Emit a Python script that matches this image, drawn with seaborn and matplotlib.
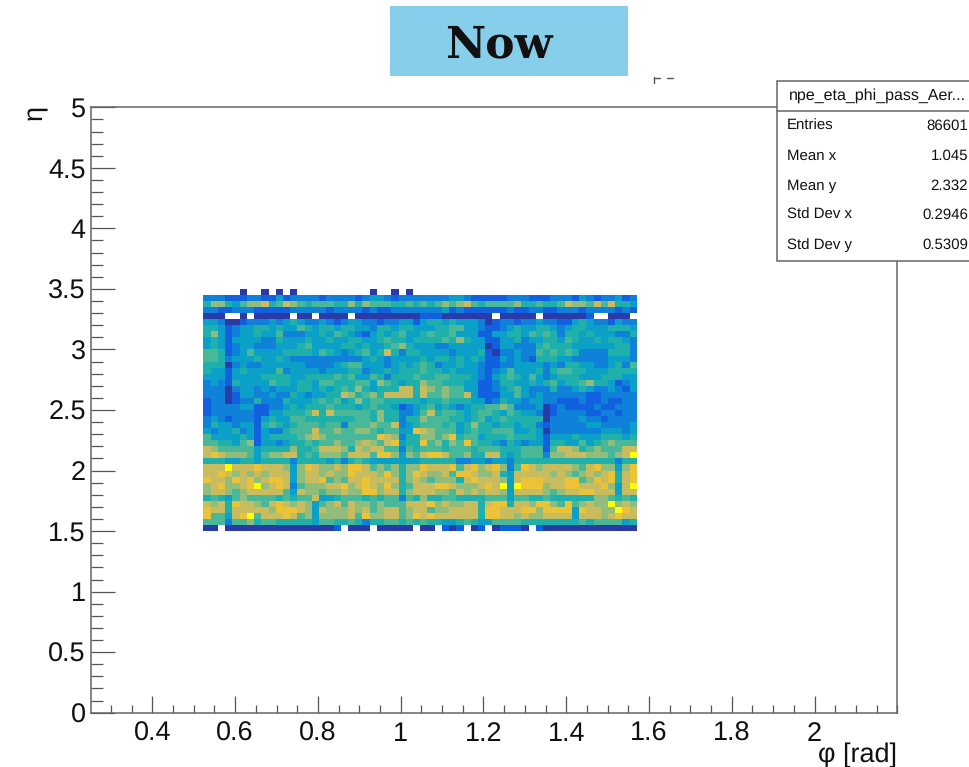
import numpy as np
import pandas as pd
import matplotlib
matplotlib.use("Agg")
import matplotlib.pyplot as plt
from matplotlib.colors import LinearSegmentedColormap
from matplotlib.lines import Line2D
from matplotlib.patches import Rectangle
from matplotlib.ticker import MultipleLocator, FixedLocator, FuncFormatter
import seaborn as sns

# Binning of the 2D histogram (one-degree phi bins)
phi_start, phi_stop, phi_bins = 0.5236, 1.5708, 60
eta_start, eta_stop, eta_bins = 1.5, 3.5, 40

# Colour level read from each cell, top row (eta 3.45-3.50) first; '.' = empty, 'a' = 10
eta_rows = [
 ".....1..1. 1.1....... ...1..1.1. .......... .......... ..........",
 "3332223322 4233332333 3234432333 3333443222 2233322233 3243233423",
 "5775467785 6876566655 7576665565 6567678656 6667556556 8776868554",
 "3322333222 2233333233 3323223333 3334232222 2232233223 3323333232",
 "111..1.111 11.11.1111 .111111111 2221111111 .11111.111 1112..111.",
 "4431123334 3454334323 4433233442 4554544431 2332334332 2454332433",
 "5542344554 5446545545 5443554554 4455664432 2345445543 4554445554",
 "5742344544 6333445465 4324545644 5655644422 4455465653 5545444335",
 "4542444433 5444544544 5544565545 5556575442 2445344554 6544545543",
 "4542344333 4445644445 5454456754 4433444441 2443335655 5444444553",
 "6652346444 4555546543 4564585355 4444344452 1334336565 6533335553",
 "6653444544 5433333333 3345434444 5455454542 2434325554 4333334443",
 "5551343344 4444333345 6644434545 6534454432 2334444343 5544334536",
 "5442454444 6344443444 5534454555 6554544432 3464445356 6554445555",
 "4442444455 5544555565 6446535556 5566555432 4565464345 5544455544",
 "3432544446 5545546655 5664765455 7665554422 3554454564 5567554234",
 "3331344343 4445545456 5754555885 8767664422 3456433353 3454334324",
 "3331244334 3354344558 7567588885 8667668422 2446434333 3332233333",
 "2331233533 3544456564 5756655555 4556555442 3544344332 2232232233",
 "2333344223 3454555655 5456554234 5645434556 6763334123 2222322333",
 "2333333224 4555685866 6665755334 6856654566 5465443123 3332233233",
 "3432333245 4466555555 5665755355 7666554564 5655555133 3343323333",
 "3544344256 5456665663 6667668345 6665645755 4554553233 3334433334",
 "4344534243 3566686676 6776566449 8766645655 6664454133 3333344434",
 "6444454245 5556787666 6666987355 7767956645 5565554244 4544455545",
 "6655467244 3455656676 6787689455 9675769655 4354344255 4464567666",
 "8766666455 5575568887 5878866365 6665666566 6555666268 8756766688",
 "8987776467 7885657776 8886997476 8998667558 8545666377 888777678a",
 "5554455455 5535555453 5654444444 5555533443 4435555555 5555555355",
 "888a888988 8747987787 9986767577 9888968978 9736987888 8768977479",
 "8898787878 8847887877 9888797579 8778699877 8548888878 7678789589",
 "9887989789 9847889676 8898888578 7677758988 8748999888 9967989589",
 "7897789a78 9836777889 7898797568 8899877789 8a4a999788 998889748a",
 "7887678888 8648776778 7799788578 8877687878 8748888767 8899888488",
 "5654676666 5656684456 6656566365 7556655556 6646655655 5555776565",
 "8785988768 9878746786 8776766688 8978778858 9958879976 967877a787",
 "9885888887 9998748777 8786788678 8677888859 9888997999 9498877a98",
 "966489a688 8986747777 8697788679 8988888859 9887877888 8488878988",
 "6663667566 5555546655 6535566565 6554456544 6666555555 5565666645",
 "11.1111111 111111112. 111.11111. 11.212.12. 12221.2111 1111111111",
]

# Colours of the levels 1-10
level_colors = ["#2a3ba8", "#1060e0", "#0f82d8", "#0aa0c8", "#20b0ac",
                "#48b898", "#90bc7c", "#c8bc60", "#ecc238", "#ffff00"]

x_tick_values = [0.4, 0.6, 0.8, 1.0, 1.2, 1.4, 1.6, 1.8, 2.0]
y_tick_values = [0, 0.5, 1, 1.5, 2, 2.5, 3, 3.5, 4, 4.5, 5]

stats_title = "npe_eta_phi_pass_Aer..."
stats_labels = ["Entries", "Mean x", "Mean y", "Std Dev x", "Std Dev y"]
stats_values = ["86601", "1.045", "2.332", "0.2946", "0.5309"]

sns.set_theme(style="white")
plt.rcParams["font.family"] = ["Liberation Sans", "DejaVu Sans"]
plt.rcParams["text.hinting"] = "none"
plt.rcParams["text.hinting_factor"] = 1

W, H = 969, 767
fig = plt.figure(figsize=(W / 100, H / 100), dpi=100)
L, R, T, B = 91.3, 897.3, 107.3, 712.7
ax = fig.add_axes([L / W, 1 - B / H, (R - L) / W, (B - T) / H])

phi_w = (phi_stop - phi_start) / phi_bins
eta_h = (eta_stop - eta_start) / eta_bins
records = []
for r, row in enumerate(eta_rows):
    cells = row.replace(" ", "")
    assert len(cells) == phi_bins, (r, len(cells))
    for c, ch in enumerate(cells):
        if ch != ".":
            records.append((phi_start + (c + 0.5) * phi_w,
                            eta_stop - (r + 0.5) * eta_h,
                            10 if ch == "a" else int(ch)))
df = pd.DataFrame(records, columns=["phi", "eta", "level"])

cmap = LinearSegmentedColormap.from_list("bird_like", level_colors)
sns.histplot(data=df, x="phi", y="eta", weights="level",
             binwidth=(phi_w, eta_h),
             binrange=((phi_start, phi_stop), (eta_start, eta_stop)),
             cmap=cmap, vmin=1, vmax=10, ax=ax, cbar=False)

ax.set_xlim(0.2525, 2.2)
ax.set_ylim(0, 5)
fmt = FuncFormatter(lambda v, _: f"{v:g}")
ax.xaxis.set_major_locator(FixedLocator(x_tick_values))
ax.yaxis.set_major_locator(FixedLocator(y_tick_values))
ax.xaxis.set_major_formatter(fmt)
ax.yaxis.set_major_formatter(fmt)
ax.xaxis.set_minor_locator(MultipleLocator(0.05))
ax.yaxis.set_minor_locator(MultipleLocator(0.1))
tick_c = "#555555"
ax.tick_params(axis="x", which="major", direction="in", length=12, width=0.9,
               color=tick_c, labelsize=19.2, pad=6, labelcolor="#111111", bottom=True)
ax.tick_params(axis="x", which="minor", direction="in", length=6, width=0.9,
               color=tick_c, bottom=True)
ax.tick_params(axis="y", which="major", direction="in", length=17.3, width=0.9,
               color=tick_c, labelsize=19.2, pad=4, labelcolor="#111111", left=True)
ax.tick_params(axis="y", which="minor", direction="in", length=8.6, width=0.9,
               color=tick_c, left=True)
for s in ax.spines.values():
    s.set_visible(True)
    s.set_color("#666666")
    s.set_linewidth(1.1)
ax.grid(False)

ax.set_xlabel("φ [rad]", fontsize=19.2, color="#111111", ha="right", va="center")
ax.xaxis.set_label_coords(1.0, (B - 755) / (B - T))
ax.set_ylabel("η", fontsize=19.2, color="#111111", ha="center", va="center", rotation=90)
ax.yaxis.set_label_coords((35 - L) / (R - L), (B - 112) / (B - T))

def fx(px):
    return px / W

def fy(py):
    return 1 - py / H

# Heading band
fig.add_artist(Rectangle((fx(390), fy(76)), 238 / W, 70 / H, transform=fig.transFigure,
                         facecolor="#87ceeb", edgecolor="none", zorder=5))
fig.text(fx(499), fy(45), "Now", family="DejaVu Serif", weight="bold", fontsize=32,
         color="#111111", ha="center", va="center", zorder=6)

# Clipped remnant of the original title
for xs, ys in [((654, 654), (77, 83)), ((654, 660), (77.5, 77.5)), ((667, 673), (77.5, 77.5))]:
    fig.add_artist(Line2D([fx(v) for v in xs], [fy(v) for v in ys], color="#555555",
                          lw=1.0, transform=fig.transFigure, zorder=6))

# Statistics box
fig.add_artist(Rectangle((fx(776.5), fy(261)), 220 / W, 180 / H, transform=fig.transFigure,
                         facecolor="white", edgecolor="#666666", lw=1.1, zorder=5))
fig.add_artist(Line2D([fx(776.5), fx(969)], [fy(111), fy(111)], color="#666666", lw=1.1,
                      transform=fig.transFigure, zorder=6))
fig.text(fx(877.5), fy(96), stats_title, fontsize=11.3, color="#111111",
         ha="center", va="center", zorder=7)
for py, label, value in zip([126, 156, 186, 215, 245], stats_labels, stats_values):
    fig.text(fx(787), fy(py), label, fontsize=11, color="#111111", ha="left", va="center", zorder=7)
    fig.text(fx(968), fy(py), value, fontsize=11, color="#111111", ha="right", va="center", zorder=7)

fig.savefig("out.png", dpi=100, facecolor="white")
